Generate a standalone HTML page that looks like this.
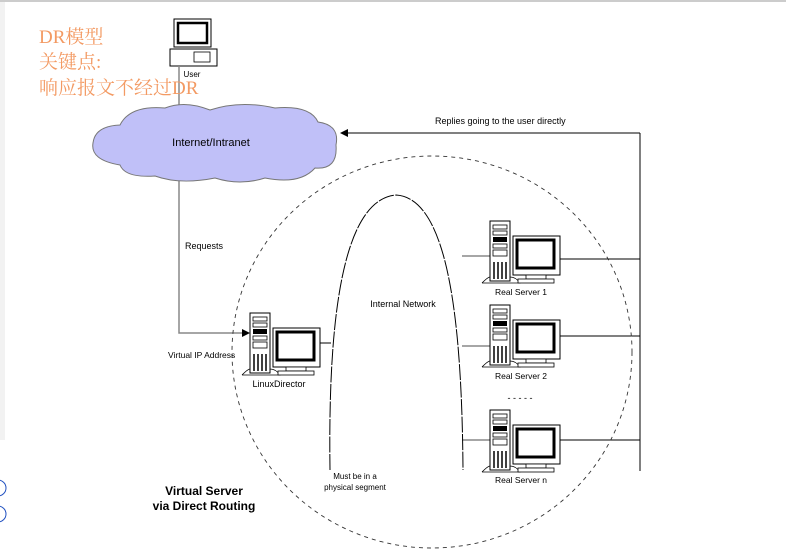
<!DOCTYPE html>
<html><head><meta charset="utf-8"><style>
html,body{margin:0;padding:0;background:#fff;width:786px;height:557px;overflow:hidden}
svg{display:block}
text{font-family:"Liberation Sans",Arial,sans-serif;fill:#000}
.cn{font-family:"Liberation Serif","Noto Serif CJK SC","Noto Sans CJK SC",serif;fill:#f39a63;font-size:19px}
</style></head><body>
<svg width="786" height="557" viewBox="0 0 786 557" xmlns="http://www.w3.org/2000/svg">
<defs>
<g id="srv">
  <rect x="0" y="0" width="20" height="60" fill="#fff" stroke="#000"/>
  <rect x="3" y="4" width="14" height="4" fill="#fff" stroke="#000" stroke-width="0.8"/>
  <rect x="3" y="10" width="14" height="4" fill="#fff" stroke="#000" stroke-width="0.8"/>
  <rect x="3" y="16" width="14" height="5" fill="#000"/>
  <rect x="3" y="23" width="14" height="4" fill="#fff" stroke="#000" stroke-width="0.8"/>
  <rect x="3" y="29" width="14" height="6" fill="#fff" stroke="#000" stroke-width="0.8"/>
  <g stroke="#000" stroke-width="1.5"><line x1="4" y1="41" x2="4" y2="58"/><line x1="8" y1="41" x2="8" y2="58"/><line x1="12" y1="41" x2="12" y2="58"/><line x1="16" y1="41" x2="16" y2="58"/></g>
  <path d="M-8 62 Q-2 56 0 56 M20 56 Q26 56 30 62 L-8 62" fill="none" stroke="#000" stroke-width="0.8"/>
  <rect x="23" y="15" width="47" height="39" fill="#fff" stroke="#000"/>
  <rect x="27" y="19" width="37" height="28" fill="#fff" stroke="#000" stroke-width="3"/>
  <rect x="36" y="54" width="20" height="4" fill="#fff" stroke="#000" stroke-width="0.8"/>
  <rect x="28" y="58" width="36" height="4" fill="#fff" stroke="#000" stroke-width="0.8"/>
</g>
</defs>
<rect x="0" y="0" width="786" height="2" fill="#ccc"/>
<rect x="0" y="2" width="5" height="438" fill="#f2f2f2"/>
<circle cx="-2" cy="488" r="8" fill="none" stroke="#2050c0"/>
<circle cx="-2" cy="514" r="8" fill="none" stroke="#2050c0"/>

<!-- user -->
<rect x="174" y="19" width="37" height="28" fill="#fff" stroke="#000"/>
<rect x="178" y="23" width="29" height="20" fill="#fff" stroke="#000" stroke-width="2.5"/>
<rect x="170" y="49" width="47" height="17" fill="#fff" stroke="#000"/>
<rect x="194" y="52" width="16" height="10" fill="#fff" stroke="#000" stroke-width="0.8"/>
<text x="192" y="77" font-size="8" text-anchor="middle">User</text>

<!-- lines -->
<g stroke="#888" stroke-width="1.5" fill="none">
<line x1="179" y1="66" x2="179" y2="110"/>
<polyline points="179,180 179,333 244,333"/>
</g>
<polygon points="250,333 242,329 242,337" fill="#000"/>

<text class="cn" x="39" y="43">DR模型</text>
<text class="cn" x="39" y="68">关键点:</text>
<text class="cn" x="39" y="94">响应报文不经过DR</text>

<!-- cloud -->
<path d="M120 125 Q130 105 165 108 Q185 100 210 110 Q240 100 275 108 Q310 105 318 122 Q340 125 336 145 Q338 170 315 168 Q300 185 265 178 Q240 186 215 178 Q180 185 155 176 Q125 178 120 165 Q90 160 93 143 Q95 126 120 125Z" fill="#c0c0f8" stroke="#777"/>
<text x="211" y="146" font-size="11" text-anchor="middle">Internet/Intranet</text>

<text x="185" y="249" font-size="9">Requests</text>
<text x="435" y="124" font-size="9">Replies going to the user directly</text>
<g stroke="#000" stroke-width="1" fill="none">
<line x1="348" y1="133" x2="640" y2="133"/>
<line x1="640" y1="133" x2="640" y2="471"/>
<line x1="560" y1="259" x2="640" y2="259"/>
<line x1="560" y1="336" x2="640" y2="336"/>
<line x1="560" y1="440" x2="640" y2="440"/>
<line x1="320" y1="343" x2="331" y2="343"/>
</g>
<polygon points="340,133 348,129 348,137" fill="#000"/>
<g stroke="#888" stroke-width="1.5">
<line x1="462" y1="256" x2="490" y2="256"/>
<line x1="462" y1="346" x2="490" y2="346"/>
<line x1="462" y1="440" x2="490" y2="440"/>
</g>

<!-- dashed circle -->
<ellipse cx="432" cy="352" rx="200" ry="196" fill="none" stroke="#333" stroke-dasharray="4,4" stroke-width="0.9"/>
<!-- arch -->
<path d="M330 470 C328 330 340 200 396 195 C450 198 462 330 463 470" fill="none" stroke="#000" stroke-dasharray="16,1.5" stroke-width="1"/>
<text x="403" y="307" font-size="9" text-anchor="middle">Internal Network</text>

<use href="#srv" x="250" y="313"/>
<text x="279" y="387" font-size="9" text-anchor="middle">LinuxDirector</text>
<text x="168" y="358" font-size="8.5">Virtual IP Address</text>

<use href="#srv" x="490" y="221"/>
<text x="521" y="295" font-size="8.5" text-anchor="middle">Real Server 1</text>
<use href="#srv" x="490" y="305"/>
<text x="521" y="379" font-size="8.5" text-anchor="middle">Real Server 2</text>
<text x="520" y="401" font-size="9" text-anchor="middle">- - - - -</text>
<use href="#srv" x="490" y="410"/>
<text x="521" y="483" font-size="8.5" text-anchor="middle">Real Server n</text>

<text x="355" y="479" font-size="8" text-anchor="middle">Must be in a</text>
<text x="355" y="490" font-size="8" text-anchor="middle">physical segment</text>
<text x="204" y="495" font-size="12" font-weight="bold" text-anchor="middle">Virtual Server</text>
<text x="204" y="510" font-size="12" font-weight="bold" text-anchor="middle">via Direct Routing</text>
</svg>
</body></html>
